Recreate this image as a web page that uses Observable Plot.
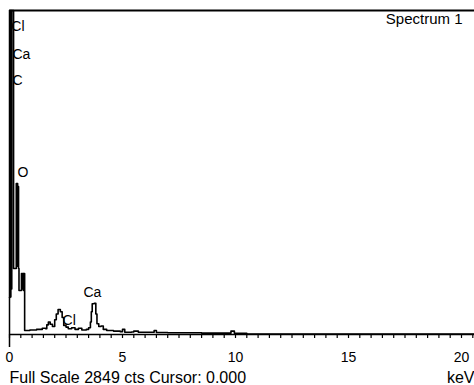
<!DOCTYPE html>
<html>
<head>
<meta charset="utf-8">
<script src="https://cdn.jsdelivr.net/npm/d3@7"></script>
<script src="https://cdn.jsdelivr.net/npm/@observablehq/plot@0.6"></script>
<style>
  html, body { margin: 0; padding: 0; background: #fff; }
  svg { display: block; font-family: "Liberation Sans", Arial, sans-serif; }
</style>
</head>
<body>
<div id="chart"></div>
<script>
// Spectrum: energy (keV) and counts (step display)
const energy = [0.00, 0.02, 0.04, 0.06, 0.08, 0.10, 0.18, 0.30, 0.32, 0.34, 0.36, 0.38, 0.40, 0.42,
  0.53, 0.56, 0.59, 0.62, 0.64, 0.67, 0.90, 1.20, 1.45, 1.60, 1.65, 1.72, 1.80, 1.90, 2.00, 2.07,
  2.15, 2.25, 2.33, 2.40, 2.50, 2.60, 2.75, 2.90, 3.05, 3.20, 3.40, 3.50, 3.58, 3.62, 3.66, 3.75,
  3.82, 3.87, 3.95, 4.05, 4.15, 4.30, 4.60, 4.90, 5.00, 5.10, 5.40, 5.50, 5.70, 6.30, 6.40, 6.50,
  7.00, 8.50, 9.70, 9.80, 9.95, 10.50, 12.00, 20.575];
const counts = [325, 2849, 330, 2849, 400, 2849, 580, 1328, 600, 1328, 650, 1300, 580, 387,
  536, 400, 536, 387, 536, 35, 40, 45, 55, 50, 85, 110, 90, 70, 130, 180,
  220, 200, 150, 80, 65, 50, 60, 45, 55, 40, 45, 60, 110, 200, 270, 275,
  180, 95, 70, 75, 45, 35, 30, 25, 45, 20, 22, 30, 20, 20, 35, 18,
  15, 12, 12, 30, 10, 5, 3, 0];

// Element markers
const elemLabels = ["Cl", "Ca", "C", "O", "Cl", "Ca"];
const elemEnergy = [0.08, 0.13, 0.13, 0.35, 2.35, 3.67];
const elemCounts = [2708, 2462, 2233, 1420, 123, 369];
const elemAnchor = ["start", "start", "start", "start", "start", "middle"];

// Axis
const fullScale = 2849;
const xMax = 20.575;
const minorTicks = d3.range(0, 20.51, 0.5);
const tickValues = [0, 5, 10, 15, 20];
const tickLabels = ["0", "5", "10", "15", "20"];

const title = "Spectrum 1";
const footer = "Full Scale 2849 cts Cursor: 0.000";
const unit = "keV";

const spectrum = energy.map((e, i) => ({e, c: counts[i]}));
const elems = elemLabels.map((t, i) => ({t, e: elemEnergy[i], c: elemCounts[i], a: elemAnchor[i]}));

const chart = Plot.plot({
  width: 474,
  height: 385,
  marginLeft: 9,
  marginRight: 0,
  marginTop: 10,
  marginBottom: 51,
  x: {domain: [0, xMax], axis: null, label: null},
  y: {domain: [0, fullScale], axis: null, label: null},
  style: {fontFamily: "'Liberation Sans', Arial, sans-serif", background: "#fff", overflow: "visible"},
  marks: [
    Plot.ruleY([fullScale], {stroke: "#000", strokeWidth: 2}),
    Plot.ruleX([0], {stroke: "#000", strokeWidth: 1.5, insetBottom: -13}),
    Plot.ruleY([0], {stroke: "#000", strokeWidth: 1.5}),
    Plot.axisX({ticks: minorTicks, tickSize: 4, tickFormat: () => "", label: null, stroke: "#000", strokeWidth: 1.2}),
    Plot.line(spectrum, {x: "e", y: "c", curve: "step-after", stroke: "#000", strokeWidth: 1.6}),
    Plot.text(elems.filter(d => d.a === "start"), {x: "e", y: "c", text: "t", textAnchor: "start", fontSize: 14, fill: "#000", lineAnchor: "middle"}),
    Plot.text(elems.filter(d => d.a === "middle"), {x: "e", y: "c", text: "t", textAnchor: "middle", fontSize: 14, fill: "#000", lineAnchor: "middle"}),
    Plot.text(tickValues, {x: d => d, text: (d, i) => tickLabels[i], frameAnchor: "bottom", dy: 23.5, fontSize: 14, fill: "#000", lineAnchor: "middle"}),
    Plot.text([title], {frameAnchor: "top-right", dx: -12, dy: 3, lineAnchor: "top", textAnchor: "end", fontSize: 15, fill: "#000"}),
    Plot.text([footer], {frameAnchor: "bottom-left", dy: 43.5, lineAnchor: "middle", textAnchor: "start", fontSize: 16, fill: "#000"}),
    Plot.text([unit], {frameAnchor: "bottom-right", dy: 43.5, lineAnchor: "middle", textAnchor: "end", fontSize: 16, fill: "#000"})
  ]
});
document.getElementById("chart").appendChild(chart);
</script>
</body>
</html>
